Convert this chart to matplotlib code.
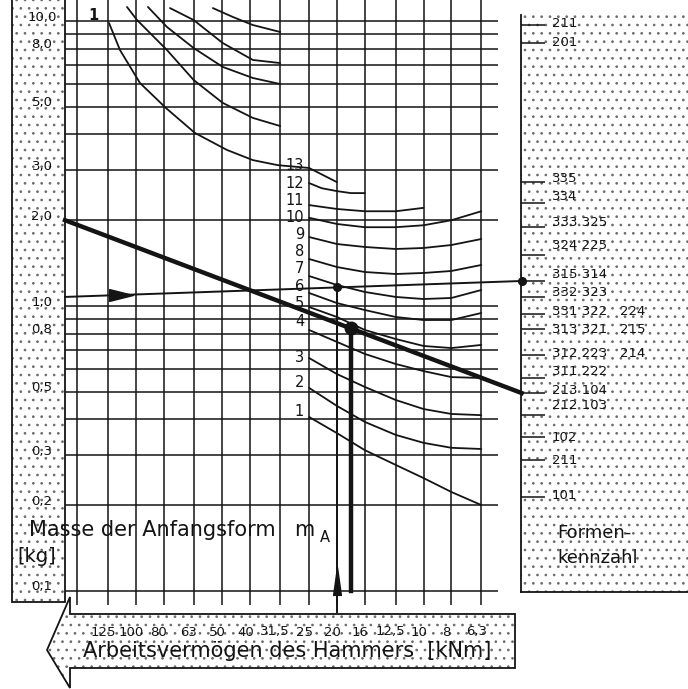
import matplotlib
matplotlib.use('Agg')
import matplotlib.pyplot as plt
from matplotlib.patches import Polygon, Rectangle
import matplotlib.transforms as mtransforms
from matplotlib.path import Path

plt.rcParams['font.family'] = ['DejaVu Sans']
plt.rcParams['hatch.linewidth'] = 0.7

INK = '#141414'
DOTS = '#6a6a6a'

# Raster: Arbeitsvermoegen des Hammers [kNm] (Senkrechte) und Masse [kg] (Waagerechte)
energie_grid = [160, 125, 100, 80, 63, 50, 40, 31.5, 25, 20, 16, 12.5, 10, 8, 6.3]
energie_werte = [125, 100, 80, 63, 50, 40, 31.5, 25, 20, 16, 12.5, 10, 8, 6.3]
energie_labels = ['125', '100', '80', '63', '50', '40', '31,5', '25', '20', '16',
                  '12,5', '10', '8', '6,3']
masse_grid = [0.1, 0.2, 0.3, 0.4, 0.5, 0.6, 0.7, 0.8, 0.9,
              1, 2, 3, 4, 5, 6, 7, 8, 9, 10]
masse_ticks = [10, 8, 5, 3, 2, 1, 0.8, 0.5, 0.3, 0.2, 0.1]
masse_labels = ['10,0', '8,0', '5,0', '3,0', '2,0', '1,0', '0,8', '0,5', '0,3', '0,2', '0,1']

# obere (unbezifferte) Kurven
oben_a_E = [124, 113.6, 96.8, 78.6, 62.4, 48.3, 39.2, 32.1, 25]
oben_a_m = [9.84, 7.91, 6.06, 4.95, 4.05, 3.53, 3.25, 3.12, 3.05]
oben_b_E = [107.4, 99.1, 78.0, 63, 49.9, 39.2, 31.5]
oben_b_m = [11.2, 10.08, 7.91, 6.21, 5.16, 4.57, 4.28]
oben_c_E = [90.8, 78.0, 63, 49.9, 39.2, 31.5]
oben_c_m = [11.2, 9.53, 8.04, 6.90, 6.31, 6.01]
oben_d_E = [76.1, 63, 49.9, 39.2, 31.5]
oben_d_m = [11.1, 10.08, 8.37, 7.30, 7.12]
oben_e_E = [54.0, 46.0, 39.2, 31.5]
oben_e_m = [11.1, 10.33, 9.68, 9.15]

# bezifferte Kurven 1 ... 13
kurve_E = [25, 20, 16, 12.5, 10, 8, 6.3]
kurve_1 = [0.408, 0.358, 0.312, 0.277, 0.249, 0.2225, 0.2003]
kurve_2 = [0.516, 0.446, 0.392, 0.353, 0.331, 0.318, 0.315]
kurve_3 = [0.657, 0.577, 0.520, 0.468, 0.435, 0.418, 0.414]
kurve_4 = [0.824, 0.748, 0.679, 0.626, 0.591, 0.563, 0.559]
kurve_5 = [0.992, 0.915, 0.824, 0.766, 0.724, 0.712, 0.730]
kurve_6 = [1.111, 1.024, 0.968, 0.915, 0.893, 0.893, 0.945]
kurve_7 = [1.274, 1.185, 1.120, 1.076, 1.058, 1.067, 1.138]
kurve_8 = [1.462, 1.370, 1.316, 1.295, 1.306, 1.327, 1.393]
kurve_9 = [1.746, 1.650, 1.611, 1.585, 1.598, 1.637, 1.718]
kurve_10 = [2.04, 1.94, 1.89, 1.89, 1.92, 2.00, 2.15]
kurve_11 = [2.26, 2.19, 2.15, 2.15, 2.21]
kurve_12_E = [25, 22.6, 20, 17.9, 16]
kurve_12 = [2.70, 2.59, 2.53, 2.49, 2.49]
kurve_13_E = [25, 20]
kurve_13 = [3.05, 2.72]
# Lage der Kurvennummern 1 ... 13 (Masse in kg)
kurve_nr_lage = [0.4247, 0.537, 0.662, 0.879, 1.024, 1.175, 1.359, 1.547, 1.775,
                 2.04, 2.354, 2.70, 3.12]

# Ablesebeispiel
bsp_dick_E = [176.4, 4.56]
bsp_dick_m = [2.00, 0.495]
bsp_duenn_E = [176.4, 4.56]
bsp_duenn_m = [1.076, 1.224]
punkt_klein = (20, 1.166)
punkt_gross = (17.9, 0.837)

# Formenkennzahl-Skala (rechts)
form_ticks = [9.68, 8.37, 2.72, 2.30, 1.89, 1.51, 1.224, 1.076, 0.937, 0.830,
              0.673, 0.559, 0.495, 0.414, 0.347, 0.288, 0.2137]
form_lage = [9.84, 8.44, 2.81, 2.43, 1.97, 1.624, 1.285, 1.111, 0.953, 0.824,
             0.684, 0.587, 0.507, 0.449, 0.347, 0.288, 0.217]
form_labels = ['211', '201', '335', '334', '333 325', '324 225', '315 314', '332 323',
               '331 322   224', '313 321   215', '312 223   214', '311 222', '213 104',
               '212 103', '102', '211', '101']

W, H = 688, 689
fig = plt.figure(figsize=(W / 100, H / 100), dpi=100)

# Hintergrund in Pixelkoordinaten (Raster-Felder, Pfeil)
bg = fig.add_axes([0, 0, 1, 1], zorder=0)
bg.set_xlim(0, W)
bg.set_ylim(H, 0)
bg.axis('off')

links = [(12, -2), (65, -2), (65, 602), (12, 602)]
rechts_feld = [(521, 13), (690, 13), (690, 592), (521, 592)]
pfeil_feld = [(47, 650), (70, 597), (70, 614), (515, 614), (515, 668), (70, 668), (70, 688)]
for pts in (links, rechts_feld, pfeil_feld):
    bg.add_patch(Polygon(pts, closed=True, facecolor='white', edgecolor=DOTS,
                         hatch='..', lw=0))
bg.add_patch(Polygon(links, closed=True, facecolor='none', edgecolor=INK, lw=1.3))
bg.add_patch(Polygon(pfeil_feld, closed=True, facecolor='none', edgecolor=INK, lw=1.3))
bg.plot([521, 521], [15, 592], color=INK, lw=1.3)
bg.plot([521, 688], [592, 592], color=INK, lw=1.3)

bg.text(29, 530, 'Masse der Anfangsform', fontsize=15, va='center', ha='left', color=INK)
bg.text(294, 530, 'm', fontsize=15, va='center', ha='left', color=INK)
bg.text(320, 538, 'A', fontsize=10.5, va='center', ha='left', color=INK)
bg.text(37, 557, '[kg]', fontsize=14, va='center', ha='center', color=INK)
bg.text(557, 533, 'Formen-', fontsize=13, va='center', ha='left', color=INK)
bg.text(557, 558, 'kennzahl', fontsize=13, va='center', ha='left', color=INK)
bg.text(83, 651, 'Arbeitsvermögen des Hammers  [kNm]', fontsize=15, va='center',
        ha='left', color=INK)
bg.text(93, 15, '1', fontsize=10.5, fontweight='bold', va='center', ha='center', color=INK)

# Hauptdiagramm
ax = fig.add_axes([65 / W, 1 - 605 / H, 433 / W, 605 / H], zorder=2)
ax.patch.set_alpha(0)
ax.set_xscale('log')
ax.set_yscale('log')
ax.set_xlim(176.4, 5.51)
ax.set_ylim(0.0893, 11.85)
for s in ax.spines.values():
    s.set_visible(False)
ax.tick_params(which='both', bottom=False, left=False, labelbottom=False, labelleft=False)

for m in masse_grid:
    ax.axhline(m, color=INK, lw=1.1, zorder=1)
for e in energie_grid:
    ax.axvline(e, color=INK, lw=1.1, zorder=1)

kw = dict(color=INK, lw=1.3, zorder=2, solid_capstyle='round')
for xs, ys in [(oben_a_E, oben_a_m), (oben_b_E, oben_b_m), (oben_c_E, oben_c_m),
               (oben_d_E, oben_d_m), (oben_e_E, oben_e_m)]:
    ax.plot(xs, ys, **kw)

kurven = [kurve_1, kurve_2, kurve_3, kurve_4, kurve_5, kurve_6, kurve_7,
          kurve_8, kurve_9, kurve_10, kurve_11]
for ys in kurven:
    ax.plot(kurve_E[:len(ys)], ys, **kw)
ax.plot(kurve_12_E, kurve_12, **kw)
ax.plot(kurve_13_E, kurve_13, **kw)

lab_tr = mtransforms.offset_copy(ax.transData, fig=fig, x=-5, y=0, units='dots')
for i, m0 in enumerate(kurve_nr_lage):
    ax.text(kurve_E[0], m0, str(i + 1), transform=lab_tr, ha='right', va='center',
            fontsize=10.5, color=INK, zorder=3)

# Achsenbeschriftung links
ytr = mtransforms.blended_transform_factory(bg.transData, ax.transData)
ytr = mtransforms.offset_copy(ytr, fig=fig, x=0, y=4, units='dots')
for m, lab in zip(masse_ticks, masse_labels):
    bg.text(42, m, lab, transform=ytr, ha='center', va='center', fontsize=9.5,
            color=INK, zorder=3)

# Energie-Werte im Pfeil
xtr = mtransforms.blended_transform_factory(ax.transData, bg.transData)
xtr = mtransforms.offset_copy(xtr, fig=fig, x=-5, y=0, units='dots')
for e, lab in zip(energie_werte, energie_labels):
    ax.text(e, 632, lab, transform=xtr, ha='center', va='center', fontsize=9.5,
            color=INK, clip_on=False)

# Ablesebeispiel
ax.plot(bsp_dick_E, bsp_dick_m, color=INK, lw=3.2, clip_on=False, zorder=4)
ax.plot(bsp_duenn_E, bsp_duenn_m, color=INK, lw=1.4, clip_on=False, zorder=4)
rechts = Path([(1, 0), (-1, 0.5), (-1, -0.5), (1, 0)],
              [Path.MOVETO, Path.LINETO, Path.LINETO, Path.CLOSEPOLY])
ax.plot([112.6], [1.089], marker=rechts, markersize=17, color=INK, zorder=5)
ax.plot([punkt_gross[0], punkt_gross[0]], [punkt_gross[1], 0.1], color=INK, lw=3.2,
        zorder=4)
ax.plot([punkt_klein[0], punkt_klein[0]], [punkt_klein[1], 0.0844], color=INK, lw=1.4,
        clip_on=False, zorder=4)
hoch = Path([(0, 1), (-0.28, -1), (0.28, -1), (0, 1)],
            [Path.MOVETO, Path.LINETO, Path.LINETO, Path.CLOSEPOLY])
ax.plot([punkt_klein[0]], [0.1084], marker=hoch, markersize=20, color=INK,
        clip_on=False, zorder=5)
ax.plot([punkt_klein[0]], [punkt_klein[1]], 'o', markersize=5.5, color=INK, zorder=5)
ax.plot([punkt_gross[0]], [punkt_gross[1]], 'o', markersize=9, color=INK, zorder=5)
ax.plot([bsp_duenn_E[1]], [bsp_duenn_m[1]], 'o', markersize=5.5, color=INK,
        clip_on=False, zorder=5)

# Formenkennzahl rechts
axr = fig.add_axes([521 / W, 1 - 605 / H, 167 / W, 605 / H], zorder=2)
axr.patch.set_alpha(0)
axr.set_yscale('log')
axr.set_ylim(0.0893, 11.85)
axr.set_xlim(0, 167)
axr.axis('off')
axr.hlines(form_ticks, 0, 24, color=INK, lw=1.1)
for m, lab in zip(form_lage, form_labels):
    axr.text(31, m, lab, ha='left', va='center', fontsize=9.5, color=INK)

fig.savefig('out.png', dpi=100)
